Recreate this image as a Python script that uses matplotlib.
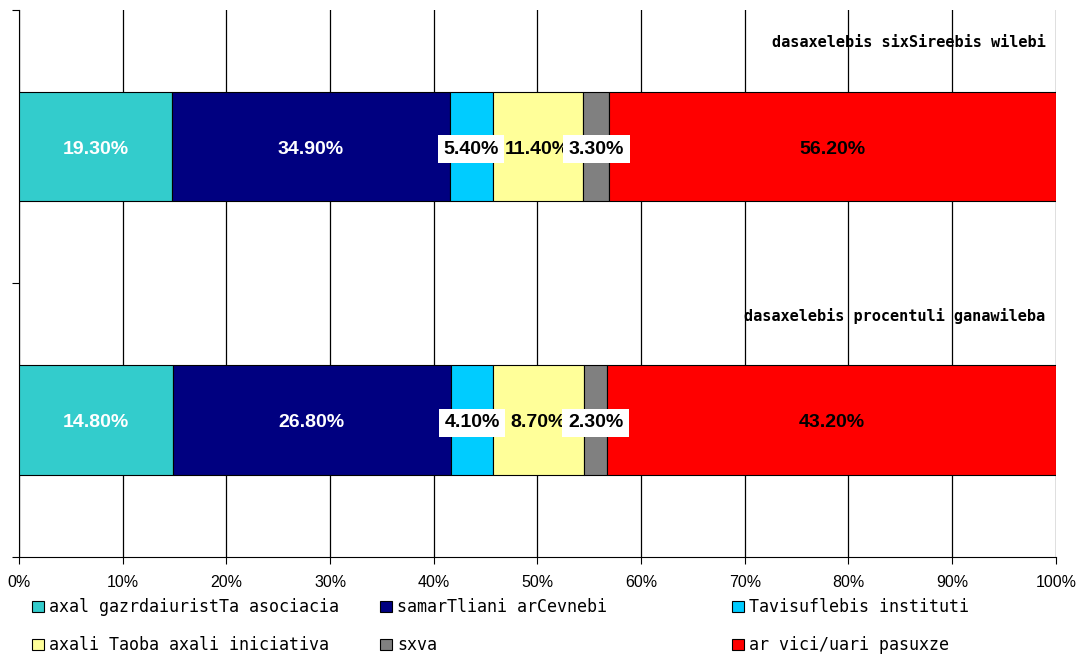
import numpy as np
import matplotlib.pyplot as plt

# data
categories = ["dasaxelebis procentuli ganawileba", "dasaxelebis sixSireebis wilebi"]
series_names = ["axal gazrdaiuristTa asociacia", "samarTliani arCevnebi",
                "Tavisuflebis instituti", "axali Taoba axali iniciativa",
                "sxva", "ar vici/uari pasuxze"]
# rows follow categories (bottom bar first)
values = [[14.8, 26.8, 4.1, 8.7, 2.3, 43.2],
          [19.3, 34.9, 5.4, 11.4, 3.3, 56.2]]
colors = ["#33CCCC", "#000080", "#00CCFF", "#FFFF99", "#808080", "#FF0000"]
label_colors = ["white", "white", "black", "black", "black", "black"]
boxed = [False, False, True, False, True, False]
xticks = np.arange(0, 101, 10)

fig = plt.figure(figsize=(10.8, 6.56), dpi=100)
ax = fig.add_axes([0.0176, 0.151, 0.96, 0.834])

vals = np.array(values)
pct = vals / vals.sum(axis=1, keepdims=True) * 100
ypos = np.arange(len(categories))
left = np.zeros(len(categories))
bars = []
for j, name in enumerate(series_names):
    b = ax.barh(ypos, pct[:, j], left=left, height=0.4, color=colors[j],
                edgecolor="black", linewidth=0.8, label=name, zorder=3)
    bars.append(b)
    for i in range(len(categories)):
        cx = left[i] + pct[i, j] / 2
        kw = {}
        if boxed[j]:
            kw["bbox"] = dict(facecolor="white", edgecolor="none", pad=4)
        ax.text(cx, ypos[i] - 0.01, "%.2f%%" % vals[i, j], ha="center", va="center",
                fontsize=14, fontweight="bold", color=label_colors[j],
                family="Liberation Sans", zorder=5, **kw)
    left = left + pct[:, j]

# category names at top right of each band
for i, c in enumerate(categories):
    ax.text(99, ypos[i] + 0.38, c, ha="right", va="center", fontsize=11,
            fontweight="bold", family="DejaVu Sans Mono", zorder=4)

ax.set_xlim(0, 100)
ax.set_ylim(-0.5, 1.5)
ax.set_xticks(xticks)
ax.set_xticklabels(["%d%%" % t for t in xticks], family="Liberation Sans", fontsize=11.5)
ax.set_yticks([-0.5, 0.5, 1.5])
ax.set_yticklabels([])
ax.tick_params(axis="x", length=5, pad=8)
ax.tick_params(axis="y", length=5)
ax.xaxis.grid(True, color="black", linewidth=0.9, zorder=0)
ax.set_axisbelow(True)
ax.spines["top"].set_visible(False)
ax.spines["right"].set_visible(False)

# legend, one per column so the columns sit where the original has them
col_x = [0.03, 0.352, 0.678]
for k in range(3):
    h = [bars[k][0], bars[k + 3][0]]
    l = [series_names[k], series_names[k + 3]]
    fig.legend(h, l, loc="upper left", bbox_to_anchor=(col_x[k], 0.088),
               frameon=False, prop={"family": "DejaVu Sans Mono", "size": 12},
               handlelength=0.7, handleheight=0.7, handletextpad=0.3,
               labelspacing=1.2, borderpad=0, borderaxespad=0)

fig.savefig("out.png", dpi=100)
